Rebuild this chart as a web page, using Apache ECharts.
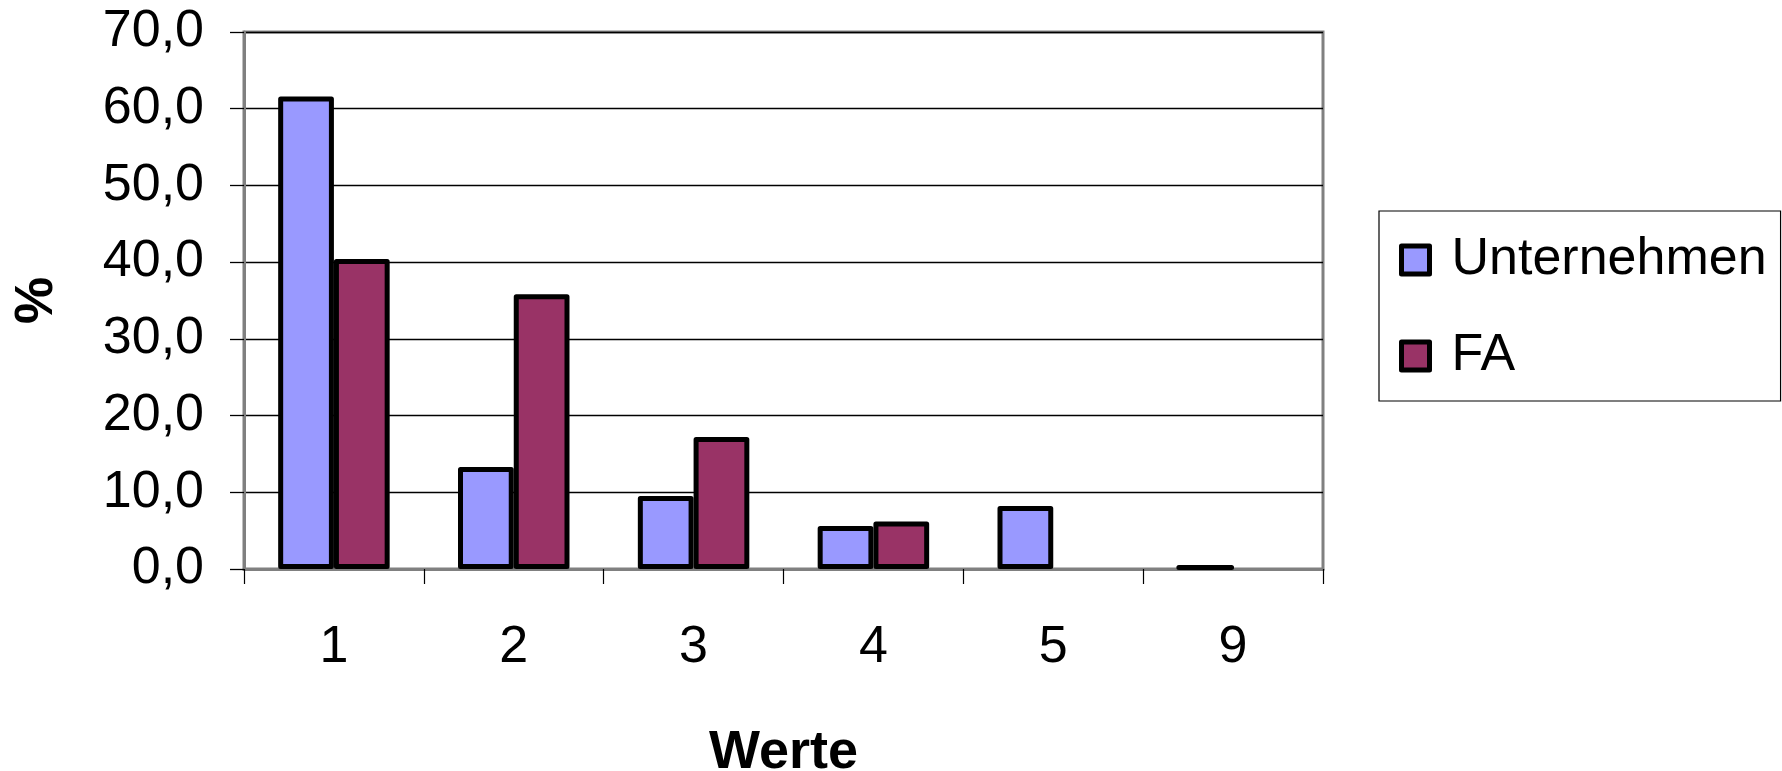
<!DOCTYPE html>
<html>
<head>
<meta charset="utf-8">
<script src="https://cdn.jsdelivr.net/npm/echarts@6/dist/echarts.min.js"></script>
<style>
html,body{margin:0;padding:0;background:#fff;}
#chart{width:1782px;height:771px;}
</style>
</head>
<body>
<div id="chart"></div>
<script>
const categories = ['1', '2', '3', '4', '5', '9'];
const unternehmen = [61.6, 13.3, 9.5, 5.6, 8.2, 0.4];
const fa = [40.4, 35.8, 17.2, 6.2, null, null];
const yTickLabels = ['0,0', '10,0', '20,0', '30,0', '40,0', '50,0', '60,0', '70,0'];
const seriesNames = ['Unternehmen', 'FA'];
const xAxisTitle = 'Werte';
const yAxisTitle = '%';

const FONT = "'Liberation Sans', Arial, sans-serif";
const legendItemStyle = {borderColor: '#000', borderWidth: 5, borderJoin: 'round'};
const chart = echarts.init(document.getElementById('chart'), null, {renderer: 'canvas'});
chart.setOption({
  animation: false,
  backgroundColor: '#ffffff',
  grid: {
    left: 244, right: 459, top: 32, bottom: 202,
    containLabel: false, outerBoundsMode: 'none',
    show: true, borderColor: '#808080', borderWidth: 3, backgroundColor: 'transparent'
  },
  legend: {
    orient: 'vertical',
    left: 1379, top: 211,
    padding: [23, 14, 19, 20],
    itemWidth: 28, itemHeight: 28, itemGap: 44,
    borderColor: '#000', borderWidth: 1.2, backgroundColor: '#fff',
    itemStyle: legendItemStyle,
    textStyle: {fontFamily: FONT, fontSize: 52, color: '#000', lineHeight: 50, padding: [0, 0, 0, 17]},
    data: seriesNames.map(function (n) { return {name: n, icon: 'rect', itemStyle: legendItemStyle}; })
  },
  xAxis: {
    type: 'category',
    data: categories,
    name: xAxisTitle,
    nameLocation: 'middle',
    nameGap: 157,
    nameTextStyle: {fontFamily: FONT, fontSize: 54, fontWeight: 'bold', color: '#000'},
    axisLine: {show: true, lineStyle: {color: '#808080', width: 3}},
    axisTick: {show: true, length: 15, lineStyle: {color: '#000', width: 1.2}},
    axisLabel: {fontFamily: FONT, fontSize: 52, color: '#000', margin: 53},
    splitLine: {show: false}
  },
  yAxis: {
    type: 'value',
    min: 0, max: 70, interval: 10,
    name: yAxisTitle,
    nameLocation: 'middle',
    nameGap: 180,
    nameTextStyle: {fontFamily: FONT, fontSize: 53, fontWeight: 'bold', color: '#000'},
    axisLine: {show: true, lineStyle: {color: '#808080', width: 3}},
    axisTick: {show: true, length: 14, lineStyle: {color: '#000', width: 1.3}},
    axisLabel: {
      fontFamily: FONT, fontSize: 52, color: '#000', margin: 40,
      formatter: function (v, i) { return yTickLabels[i]; }
    },
    splitLine: {show: true, lineStyle: {color: '#000', width: 1.3}}
  },
  series: [
    {
      name: seriesNames[0], type: 'bar', data: unternehmen,
      barGap: '0%', barCategoryGap: '38%',
      itemStyle: {color: '#9999FF', borderColor: '#000', borderWidth: 5, borderJoin: 'round'}
    },
    {
      name: seriesNames[1], type: 'bar', data: fa,
      barGap: '0%', barCategoryGap: '38%',
      itemStyle: {color: '#993366', borderColor: '#000', borderWidth: 5, borderJoin: 'round'}
    }
  ]
});
</script>
</body>
</html>
